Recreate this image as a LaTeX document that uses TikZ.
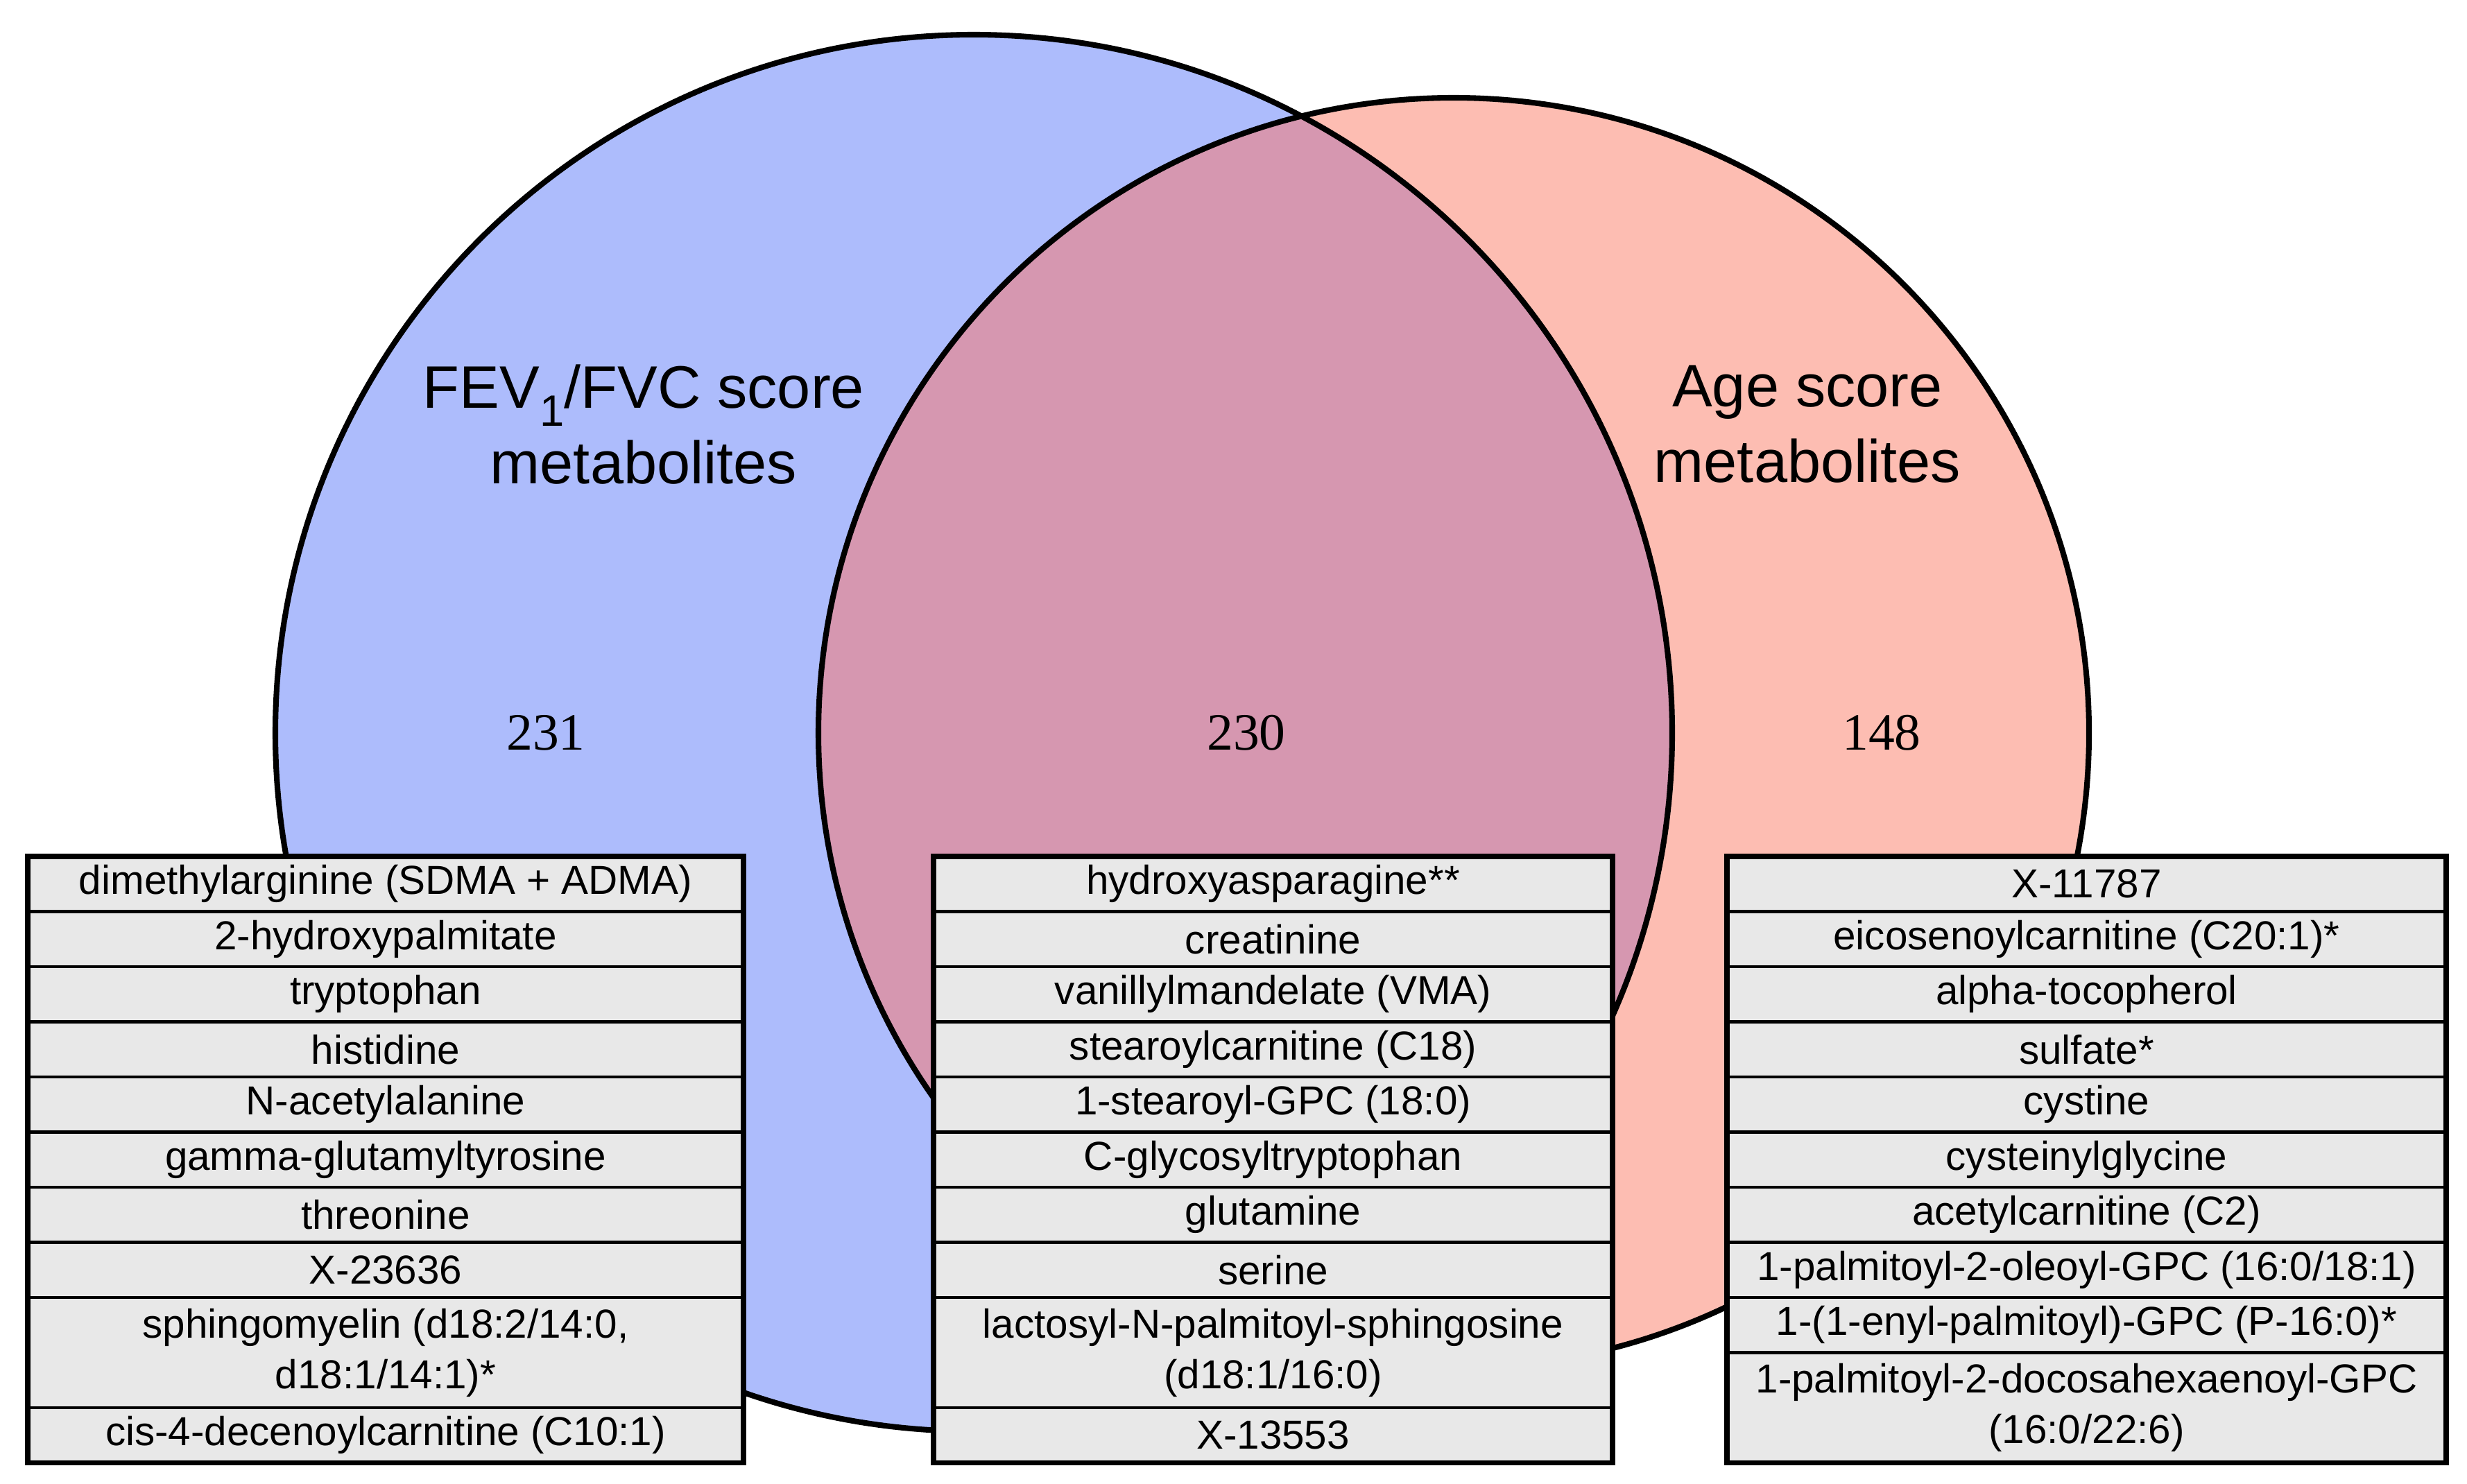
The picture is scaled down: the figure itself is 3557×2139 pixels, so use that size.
\documentclass[tikz,border=0pt]{standalone}
\usepackage{fontspec}
\setmainfont{Liberation Sans}
\newfontfamily\numfont{Liberation Serif}
\definecolor{blueC}{HTML}{ADBCFC}
\definecolor{pinkC}{HTML}{FDBDB2}
\definecolor{lensC}{HTML}{D697B0}
\definecolor{cellC}{HTML}{E8E8E8}
\begin{document}
\begin{tikzpicture}[x=0.01cm,y=-0.01cm,
  outline/.style={draw=black,line width=2.3pt},
  titletext/.style={align=center,inner sep=0pt,font=\fontsize{24.6pt}{31pt}\selectfont},
  count/.style={inner sep=0pt,font=\numfont\fontsize{21.5pt}{21.5pt}\selectfont},
  cell/.style={draw=black,line width=1.4pt,fill=cellC,inner sep=0pt,outer sep=0pt,anchor=north,
    minimum height=0.795cm,align=center,font=\fontsize{16.6pt}{20.7pt}\selectfont},
  dcell/.style={cell,minimum height=1.59cm},
  lcol/.style={minimum width=10.32cm},
  mcol/.style={minimum width=9.79cm},
  rcol/.style={minimum width=10.37cm},
  frame/.style={draw=black,line width=2.2pt}]
\useasboundingbox (0,0) rectangle (3557,2139);
% circles
\fill[blueC] (1404,1057) circle (1007);
\fill[pinkC] (2096,1057) circle (916);
\begin{scope}
  \clip (1404,1057) circle (1007);
  \fill[lensC] (2096,1057) circle (916);
\end{scope}
\draw[outline] (1404,1057) circle (1007);
\draw[outline] (2096,1057) circle (916);
% titles and counts
\node[titletext] (tleft) at (928,612) {FEV\raisebox{-0.3em}{\fontsize{18pt}{18pt}\selectfont 1}/FVC score\\metabolites};
\node[titletext] (tright) at (2606,612) {Age score\\metabolites};
\node[count] (nleft) at (787,1057) {231};
\node[count] (nmid) at (1797,1057) {230};
\node[count] (nright) at (2713,1057) {148};
% left table
\node[cell,lcol] (L1) at (556,1235) {dimethylarginine (SDMA + ADMA)};
\node[cell,lcol] (L2) at (556,1314.5) {2-hydroxypalmitate};
\node[cell,lcol] (L3) at (556,1394) {tryptophan};
\node[cell,lcol] (L4) at (556,1473.5) {histidine};
\node[cell,lcol] (L5) at (556,1553) {N-acetylalanine};
\node[cell,lcol] (L6) at (556,1632.5) {gamma-glutamyltyrosine};
\node[cell,lcol] (L7) at (556,1712) {threonine};
\node[cell,lcol] (L8) at (556,1791.5) {X-23636};
\node[dcell,lcol] (L9) at (556,1871) {sphingomyelin (d18:2/14:0,\\d18:1/14:1)*};
\node[cell,lcol] (L10) at (556,2030) {cis-4-decenoylcarnitine (C10:1)};
\draw[frame] (L1.north west) rectangle (L10.south east);
% middle table
\node[cell,mcol] (M1) at (1835.5,1235) {hydroxyasparagine**};
\node[cell,mcol] (M2) at (1835.5,1314.5) {creatinine};
\node[cell,mcol] (M3) at (1835.5,1394) {vanillylmandelate (VMA)};
\node[cell,mcol] (M4) at (1835.5,1473.5) {stearoylcarnitine (C18)};
\node[cell,mcol] (M5) at (1835.5,1553) {1-stearoyl-GPC (18:0)};
\node[cell,mcol] (M6) at (1835.5,1632.5) {C-glycosyltryptophan};
\node[cell,mcol] (M7) at (1835.5,1712) {glutamine};
\node[cell,mcol] (M8) at (1835.5,1791.5) {serine};
\node[dcell,mcol] (M9) at (1835.5,1871) {lactosyl-N-palmitoyl-sphingosine\\(d18:1/16:0)};
\node[cell,mcol] (M10) at (1835.5,2030) {X-13553};
\draw[frame] (M1.north west) rectangle (M10.south east);
% right table
\node[cell,rcol] (R1) at (3008.5,1235) {X-11787};
\node[cell,rcol] (R2) at (3008.5,1314.5) {eicosenoylcarnitine (C20:1)*};
\node[cell,rcol] (R3) at (3008.5,1394) {alpha-tocopherol};
\node[cell,rcol] (R4) at (3008.5,1473.5) {sulfate*};
\node[cell,rcol] (R5) at (3008.5,1553) {cystine};
\node[cell,rcol] (R6) at (3008.5,1632.5) {cysteinylglycine};
\node[cell,rcol] (R7) at (3008.5,1712) {acetylcarnitine (C2)};
\node[cell,rcol] (R8) at (3008.5,1791.5) {1-palmitoyl-2-oleoyl-GPC (16:0/18:1)};
\node[cell,rcol] (R9) at (3008.5,1871) {1-(1-enyl-palmitoyl)-GPC (P-16:0)*};
\node[dcell,rcol] (R10) at (3008.5,1950.5) {1-palmitoyl-2-docosahexaenoyl-GPC\\(16:0/22:6)};
\draw[frame] (R1.north west) rectangle (R10.south east);
\end{tikzpicture}
\end{document}
